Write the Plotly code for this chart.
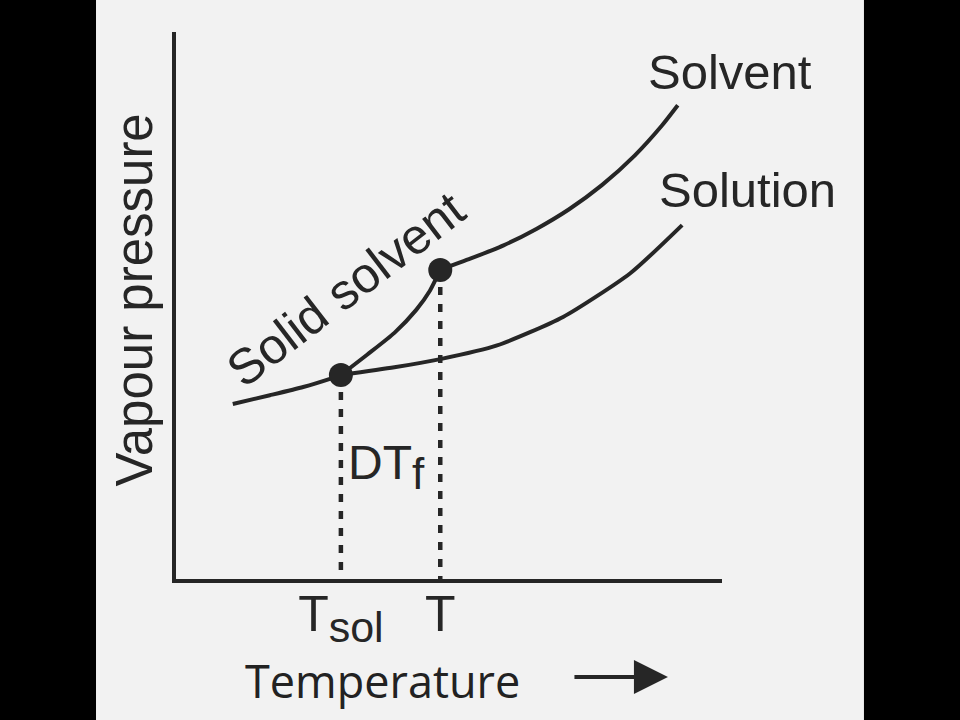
import plotly.graph_objects as go

# ---- data (temperature units, vapour-pressure units) ----
T_sol = 3.02
T_pure = 4.84
P_sol = 3.73
P_pure = 5.65

solid_low_x = [1.04, 1.72, 2.33, 2.82, 3.02]
solid_low_y = [3.20, 3.36, 3.51, 3.66, 3.73]

solid_up_x = [3.02, 3.5, 4.0, 4.4, 4.65, 4.84]
solid_up_y = [3.73, 4.10, 4.50, 4.92, 5.27, 5.65]

solvent_x = [4.84, 5.4, 6.0, 6.6, 7.2, 7.8, 8.4, 8.9, 9.19]
solvent_y = [5.65, 5.86, 6.10, 6.40, 6.76, 7.20, 7.74, 8.29, 8.66]

solution_x = [3.02, 4.0, 4.84, 5.88, 7.09, 8.32, 9.27]
solution_y = [3.73, 3.87, 4.02, 4.27, 4.79, 5.59, 6.47]

tick_vals = [T_sol, T_pure]
tick_text = ["T<sub><span style='font-size:43px'>sol</span></sub>", "T"]

INK = "#262626"
BG = "#f2f2f2"
FONT = "Liberation Sans, Arial, sans-serif"

fig = go.Figure()

line_style = dict(color=INK, width=4, shape="spline", smoothing=0.6)
for xs, ys in [(solid_low_x, solid_low_y), (solid_up_x, solid_up_y),
               (solvent_x, solvent_y), (solution_x, solution_y)]:
    fig.add_trace(go.Scatter(x=xs, y=ys, mode="lines", line=line_style))

# dotted drop lines
fig.add_trace(go.Scatter(
    x=[T_sol, T_sol, None, T_pure, T_pure],
    y=[P_sol, 0, None, P_pure, 0],
    mode="lines",
    line=dict(color=INK, width=4.5, dash="8px,9px"),
))

# points
fig.add_trace(go.Scatter(
    x=[T_sol, T_pure], y=[P_sol, P_pure], mode="markers",
    marker=dict(color=INK, size=24, line=dict(width=0)),
))

ann_font = dict(family=FONT, size=49, color=INK)
annotations = [
    dict(x=1.015, y=0.927, text="Solvent", showarrow=False, font=ann_font),
    dict(x=1.046, y=0.711, text="Solution", showarrow=False, font=ann_font),
    dict(x=0.312, y=0.530, text="Solid solvent", showarrow=False,
         font=dict(family=FONT, size=50, color=INK), textangle=-37.5),
    dict(x=0.386, y=0.205, text="DT<sub><span style='font-size:44px'>f</span></sub>",
         showarrow=False, font=dict(family=FONT, size=48, color=INK)),
    dict(x=-0.076, y=0.51, text="Vapour pressure", showarrow=False,
         font=dict(family=FONT, size=51, color=INK), textangle=-90),
    dict(x=0.379, y=-0.185, text="Temperature", showarrow=False,
         font=dict(family="Open Sans, sans-serif", size=45, color="#222222")),
    dict(x=0.901, y=-0.179, ax=-95, ay=0, text="", showarrow=True,
         arrowhead=2, arrowsize=1.7, arrowwidth=4, arrowcolor=INK),
]
for a in annotations:
    a.setdefault("xref", "paper")
    a.setdefault("yref", "paper")
    a.setdefault("xanchor", "center")
    a.setdefault("yanchor", "middle")

shapes = [
    dict(type="rect", xref="paper", yref="paper", x0=-0.33, x1=-0.1465,
         y0=-0.3, y1=1.1, fillcolor="black", line=dict(width=0)),
    dict(type="rect", xref="paper", yref="paper", x0=1.260, x1=1.45,
         y0=-0.3, y1=1.1, fillcolor="black", line=dict(width=0)),
]

fig.update_layout(
    width=960, height=720,
    margin=dict(l=176, r=238, t=32, b=141),
    paper_bgcolor=BG, plot_bgcolor=BG,
    showlegend=False,
    annotations=annotations,
    shapes=shapes,
    xaxis=dict(range=[0, 10], showgrid=False, zeroline=False,
               showline=True, linecolor=INK, linewidth=4,
               tickvals=tick_vals, ticktext=tick_text, ticks="",
               ticklabelstandoff=-12,
               tickfont=dict(family=FONT, size=50, color=INK),
               fixedrange=True),
    yaxis=dict(range=[0, 10], showgrid=False, zeroline=False,
               showline=True, linecolor=INK, linewidth=4,
               showticklabels=False, ticks="", fixedrange=True),
)

fig.write_html("out.html", config={"displayModeBar": False},
               post_script="document.body.style.margin='0';")
